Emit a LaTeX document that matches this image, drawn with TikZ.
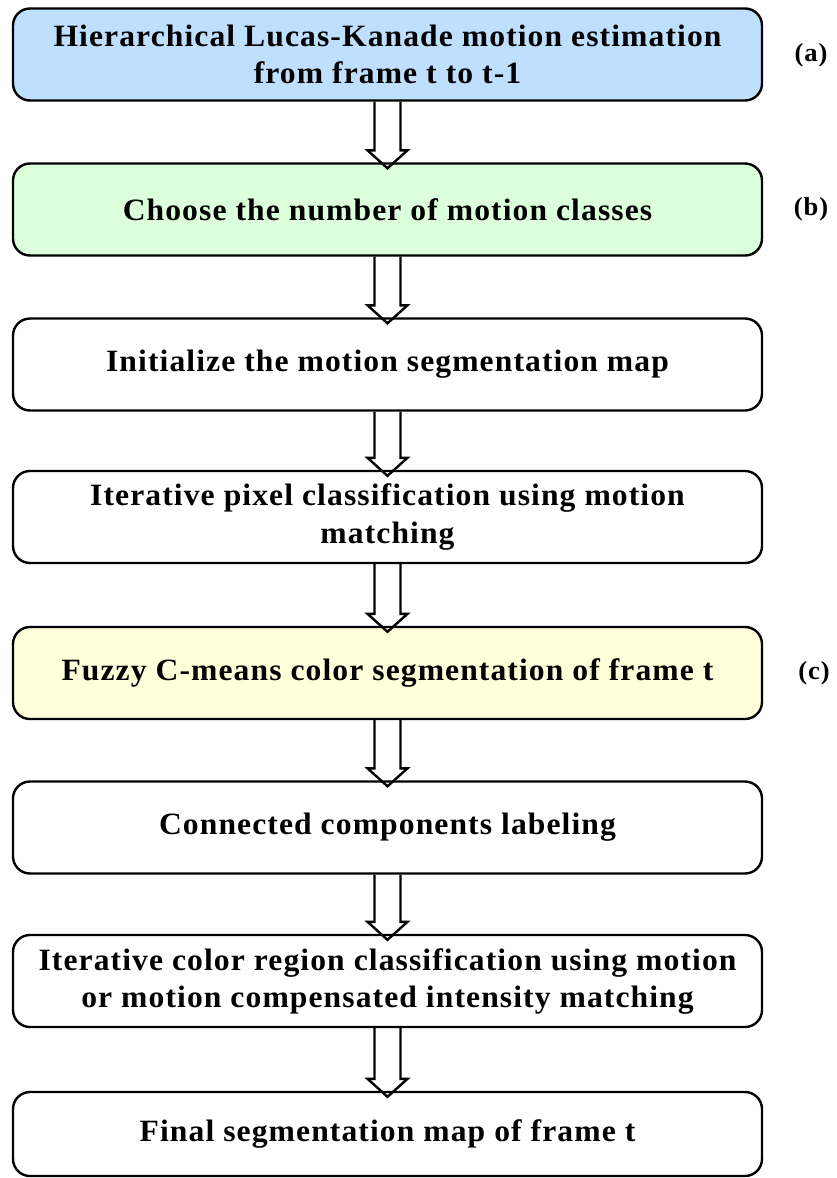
\documentclass[tikz,border=0pt]{standalone}
\usepackage{fontspec}
\setmainfont{Liberation Serif}[FakeStretch=1.02, LetterSpace=3.5]
\usetikzlibrary{calc}
\definecolor{stepblue}{RGB}{191,223,255}
\definecolor{stepgreen}{RGB}{220,255,220}
\definecolor{stepyellow}{RGB}{255,255,220}

\begin{document}
\begin{tikzpicture}[x=1pt,y=-1pt,
  stepbox/.style={draw=black, line width=2.4pt, rounded corners=17pt,
    minimum width=749pt, minimum height=92pt, align=center, inner sep=0pt,
    font=\fontsize{31}{37}\selectfont\bfseries},
  tag/.style={font=\fontsize{26}{30}\selectfont\bfseries, inner sep=0pt},
  flow/.style={draw=black, line width=2.4pt, line join=miter}]
\useasboundingbox (0,0) rectangle (836,1178);

% process steps
\node[stepbox, fill=stepblue]   (b1) at (387.5,54.5)  {Hierarchical Lucas-Kanade motion estimation\\from frame t to t-1};
\node[stepbox, fill=stepgreen]  (b2) at (387.5,209.5) {Choose the number of motion classes};
\node[stepbox]                  (b3) at (387.5,364.5) {Initialize the motion segmentation map};
\node[stepbox]                  (b4) at (387.5,517)   {Iterative pixel classification using motion\\matching};
\node[stepbox, fill=stepyellow] (b5) at (387.5,673)   {Fuzzy C-means color segmentation of frame t};
\node[stepbox]                  (b6) at (387.5,827.5) {Connected components labeling};
\node[stepbox]                  (b7) at (387.5,981)   {Iterative color region classification using motion\\or motion compensated intensity matching};
\node[stepbox, minimum height=84pt] (b8) at (387.5,1134) {Final segmentation map of frame t};

% stage tags
\node[tag] (la) at (811,55)  {(a)};
\node[tag] (lb) at (811,209) {(b)};
\node[tag] (lc) at (814,673) {(c)};

% hollow double-line arrows between steps
\foreach \u/\v in {b1/b2,b2/b3,b3/b4,b4/b5,b5/b6,b6/b7,b7/b8}{
  \draw[flow] ($(\u.south)+(-13,0)$) -- ($(\v.north)+(-13,-12)$) -- ++(-7,0)
    -- ($(\v.north)+(0,6)$) -- ($(\v.north)+(20,-12)$) -- ++(-7,0)
    -- ($(\u.south)+(13,0)$);
}
\end{tikzpicture}
\end{document}
